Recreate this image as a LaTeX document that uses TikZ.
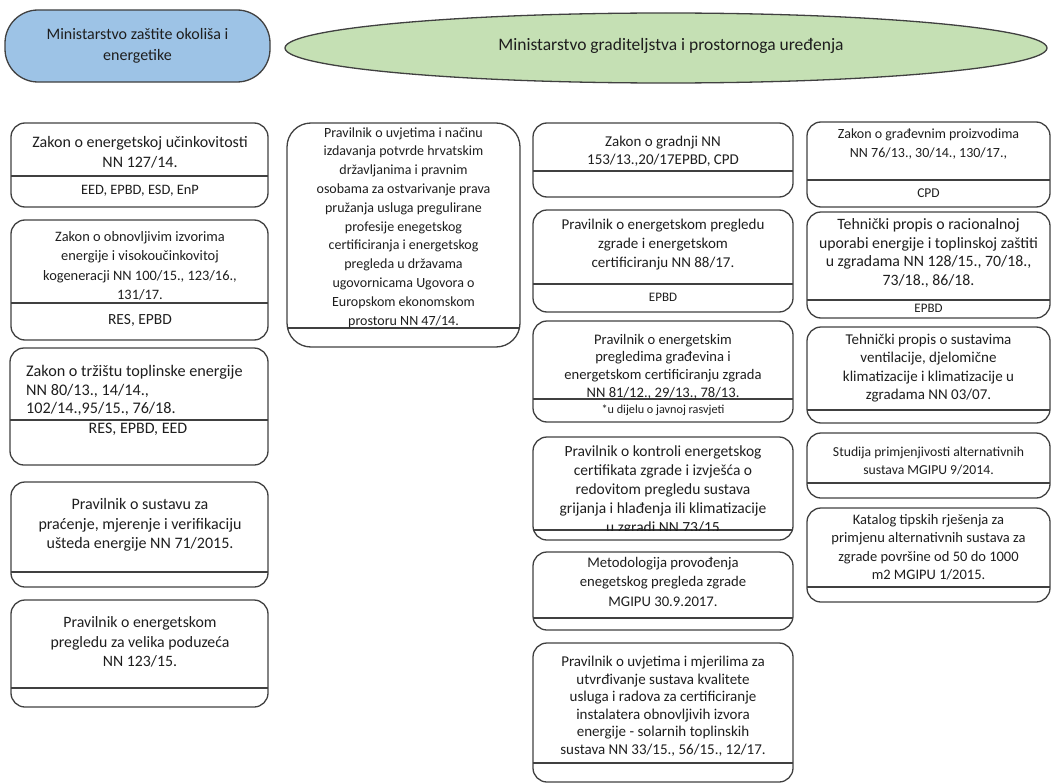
\documentclass[tikz,border=0pt]{standalone}
\usepackage{fontspec}
\setmainfont{Carlito}
\usetikzlibrary{shapes.geometric}
\definecolor{ln}{HTML}{404040}
\definecolor{txt}{HTML}{1E1E1E}
\definecolor{blueF}{HTML}{9DC3E6}
\definecolor{greenF}{HTML}{C5E0B4}
\tikzset{
  lawbox/.style={draw=ln, line width=1.3pt, rounded corners=14pt, inner sep=0pt, outer sep=0pt},
  divline/.style={draw=ln, line width=1.2pt},
  uptext/.style={anchor=north, align=center, inner sep=0pt, text=txt},
  lowtext/.style={anchor=center, inner sep=0pt, text=txt},
}
% name x1 y1 x2 y2 ydiv
\newcommand{\mkbox}[6]{%
  \node[lawbox, minimum width={(#4-#2)*1pt}, minimum height={(#5-#3)*1pt}] (#1) at ({(#2+#4)/2},{(#3+#5)/2}) {};
  \coordinate (#1-d) at (0,#6);
  \draw[divline] (#1.west |- #1-d) -- (#1.east |- #1-d);
}
% name x ycenter-of-first-line size skip text
\newcommand{\utext}[6]{%
  \node[uptext, font=\fontsize{#4}{#5}\selectfont] (#1) at (#2,{#3+0.28*#4-0.7*#5}) {\strut#6};
}
% name x y size text
\newcommand{\ltext}[5]{%
  \node[lowtext, font=\fontsize{#4}{#4}\selectfont] (#1) at (#2,#3) {#5};
}
\begin{document}
\begin{tikzpicture}[x=1pt,y=-1pt]
\useasboundingbox (0,0) rectangle (1052,784);

% headers
\node[draw=ln, line width=1.3pt, fill=blueF, rounded corners=33pt, minimum width=265pt, minimum height=72pt, align=center, text=txt, font=\fontsize{16}{21}\selectfont] (mzo) at (137.5,46) {Ministarstvo zaštite okoliša i\\energetike};
\node[ellipse, draw=ln, line width=1.3pt, fill=greenF, minimum width=762pt, minimum height=70pt, inner sep=0pt] (mgi) at (666,48) {};
\node[text=txt, font=\fontsize{17.5}{20}\selectfont, inner sep=0pt] (mgi-t) at (671,46) {Ministarstvo graditeljstva i prostornoga uređenja};

% column 1
\mkbox{b11}{11}{123}{268}{207}{176}
\utext{b11-t}{140}{143}{16}{20}{Zakon o energetskoj učinkovitosti\\NN 127/14.}
\ltext{b11-l}{140}{191}{14.4}{EED, EPBD, ESD, EnP}

\mkbox{b12}{11}{220}{268}{340}{303}
\utext{b12-t}{140}{237}{14.4}{19.5}{Zakon o obnovljivim izvorima\\energije i visokoučinkovitoj\\kogeneracji NN 100/15., 123/16.,\\131/17.}
\ltext{b12-l}{140}{320}{15.5}{RES, EPBD}

\mkbox{b13}{10}{348}{268}{465}{420}
\node[anchor=north west, align=left, inner sep=0pt, text=txt, font=\fontsize{16.2}{18.3}\selectfont] (b13-t) at (26,{372+0.28*16.2-0.7*18.3}) {\strut Zakon o tržištu toplinske energije\\NN 80/13., 14/14.,\\102/14.,95/15., 76/18.};
\ltext{b13-l}{138}{429}{16}{RES, EPBD, EED}

\mkbox{b14}{11}{482}{268}{587}{572}
\utext{b14-t}{140}{505}{16}{19.5}{Pravilnik o sustavu za\\praćenje, mjerenje i verifikaciju\\ušteda energije NN 71/2015.}

\mkbox{b15}{11}{600}{268}{707}{688}
\utext{b15-t}{140}{623}{15.8}{19.5}{Pravilnik o energetskom\\pregledu za velika poduzeća\\NN 123/15.}

% column 2
\begin{scope}[lawbox/.append style={rounded corners=24pt}]
\mkbox{b21}{287}{123}{520}{347}{328}
\end{scope}
\utext{b21-t}{403.5}{133}{14}{18.8}{Pravilnik o uvjetima i načinu\\izdavanja potvrde hrvatskim\\državljanima i pravnim\\osobama za ostvarivanje prava\\pružanja usluga pregulirane\\profesije enegetskog\\certificiranja i energetskog\\pregleda u državama\\ugovornicama Ugovora o\\Europskom ekonomskom\\prostoru NN 47/14.}

% column 3
\mkbox{b31}{533}{123}{793}{197}{171}
\utext{b31-t}{663}{142}{15}{18.5}{Zakon o gradnji NN\\153/13.,20/17EPBD, CPD}

\mkbox{b32}{533}{210}{793}{312}{284}
\utext{b32-t}{663}{225}{15}{19}{Pravilnik o energetskom pregledu\\zgrade i energetskom\\certificiranju NN 88/17.}
\ltext{b32-l}{663}{297}{13}{EPBD}

\mkbox{b33}{533}{321}{793}{422}{399}
\utext{b33-t}{663}{340}{14.6}{17.7}{Pravilnik o energetskim\\pregledima građevina i\\energetskom certificiranju zgrada\\NN 81/12., 29/13., 78/13.}
\ltext{b33-l}{663}{410}{12.2}{*u dijelu o javnoj rasvjeti}

\mkbox{b34}{533}{437}{793}{540}{530}
\begin{scope}
\clip (533,437) rectangle (793,530);
\utext{b34-t}{663}{452}{15.5}{19}{Pravilnik o kontroli energetskog\\certifikata zgrade i izvješća o\\redovitom pregledu sustava\\grijanja i hlađenja ili klimatizacije\\u zgradi NN 73/15}
\end{scope}

\mkbox{b35}{533}{552}{793}{630}{618}
\utext{b35-t}{663}{563}{14.7}{19.5}{Metodologija provođenja\\enegetskog pregleda zgrade\\MGIPU 30.9.2017.}

\mkbox{b36}{533}{643}{793}{782}{763}
\utext{b36-t}{663}{662}{15}{17.6}{Pravilnik o uvjetima i mjerilima za\\utvrđivanje sustava kvalitete\\usluga i radova za certificiranje\\instalatera obnovljivih izvora\\energije - solarnih toplinskih\\sustava NN 33/15., 56/15., 12/17.}

% column 4
\mkbox{b41}{807}{122}{1050}{207}{180}
\utext{b41-t}{928.5}{134}{14}{19}{Zakon o građevnim proizvodima\\NN 76/13., 30/14., 130/17.,}
\ltext{b41-l}{928.5}{193}{13.5}{CPD}

\mkbox{b42}{807}{212}{1050}{318}{300}
\utext{b42-t}{928.5}{225}{15.8}{18.5}{Tehnički propis o racionalnoj\\uporabi energije i toplinskoj zaštiti\\u zgradama NN 128/15., 70/18.,\\73/18., 86/18.}
\ltext{b42-l}{928.5}{308}{13}{EPBD}

\mkbox{b43}{807}{327}{1050}{423}{410}
\utext{b43-t}{928.5}{340}{15}{18.5}{Tehnički propis o sustavima\\ventilacije, djelomične\\klimatizacije i klimatizacije u\\zgradama NN 03/07.}

\mkbox{b44}{807}{433}{1050}{498}{483}
\utext{b44-t}{928.5}{452}{13.7}{18.5}{Studija primjenjivosti alternativnih\\sustava MGIPU 9/2014.}

\mkbox{b45}{807}{508}{1050}{602}{587}
\utext{b45-t}{928.5}{520}{14.5}{18.5}{Katalog tipskih rješenja za\\primjenu alternativnih sustava za\\zgrade površine od 50 do 1000\\m2 MGIPU 1/2015.}
\end{tikzpicture}
\end{document}
